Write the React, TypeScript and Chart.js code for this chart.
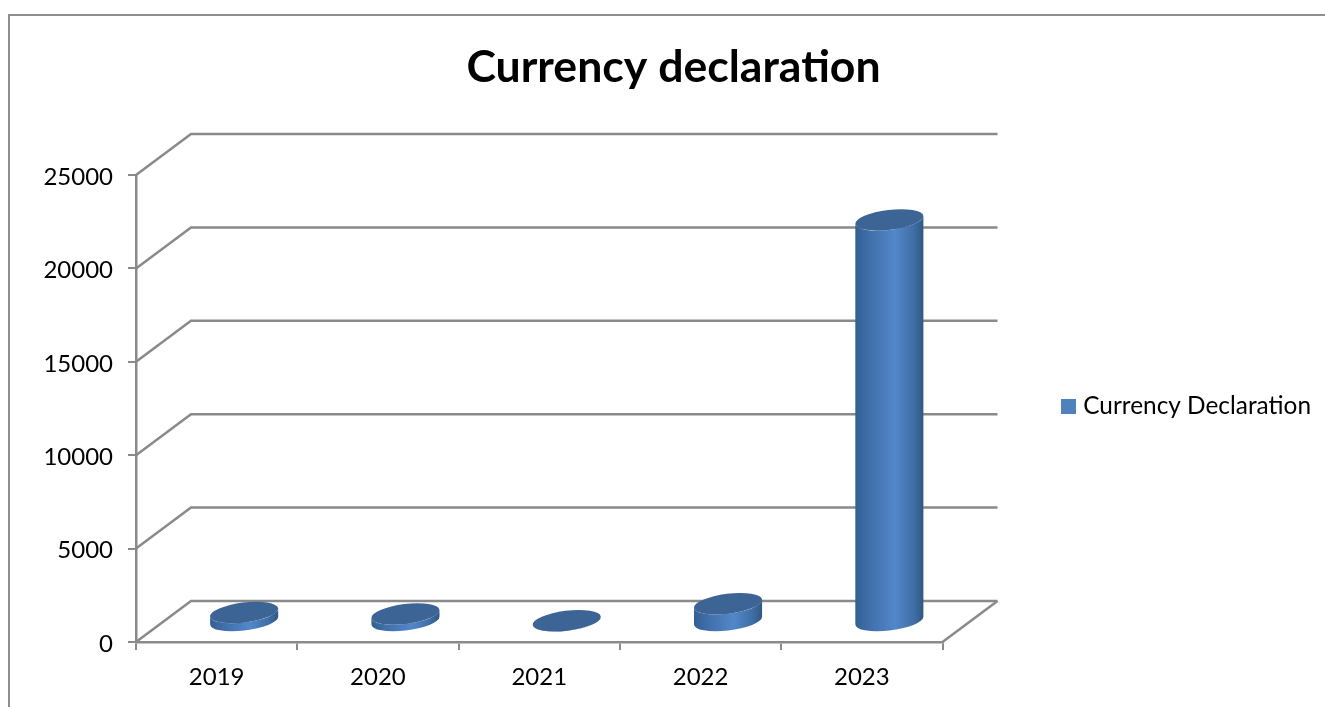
import React, { useEffect, useRef } from "react";
import { Chart, registerables } from "chart.js";

Chart.register(...registerables);

const years = ["2019", "2020", "2021", "2022", "2023"];
const declarations = [480, 400, 40, 950, 21500];
const seriesName = "Currency Declaration";
const chartTitle = "Currency declaration";

const FONT = "Lato, 'Open Sans', sans-serif";
const AXIS_GREY = "#8a8a8a";
const SERIES_BLUE = "#4F81BD";
const WALL_DX = 55;
const WALL_DY = 41;
const TILT = (-7 * Math.PI) / 180;
const RIM = 10;

// Swatch painted off-screen so the legend key can sit closer to its label.
function legendSwatch() {
  const c = document.createElement("canvas");
  c.width = 15;
  c.height = 15;
  const g = c.getContext("2d")!;
  g.fillStyle = SERIES_BLUE;
  g.fillRect(0, 0, 15, 15);
  return c;
}

// Chart frame, open on the right and bottom edges of the canvas.
const framePlugin = {
  id: "frame",
  beforeDraw(chart: any) {
    const { ctx, width, height } = chart;
    ctx.save();
    ctx.fillStyle = "#fff";
    ctx.fillRect(0, 0, width, height);
    ctx.strokeStyle = "#8e8e8e";
    ctx.lineWidth = 2;
    ctx.beginPath();
    ctx.moveTo(9, height + 2);
    ctx.lineTo(9, 15);
    ctx.lineTo(width + 2, 15);
    ctx.stroke();
    ctx.restore();
  },
};

// Moves title and legend to their final spots once the plot area is settled.
const placementPlugin = {
  id: "placement",
  afterLayout(chart: any) {
    const t = chart.titleBlock;
    const shift = 673.5 - (t.left + t.right) / 2;
    t.left += shift;
    t.right += shift;
    const l = chart.legend;
    const w = l.right - l.left;
    l.left = 1059;
    l.right = 1059 + w;
    l.top += 53;
    l.bottom += 53;
  },
};

// Receding wall and floor lines of the 3-D plot box, one per value tick.
const wallsPlugin = {
  id: "walls",
  beforeDatasetsDraw(chart: any) {
    const { ctx, chartArea, scales } = chart;
    const { left, right, bottom } = chartArea;
    ctx.save();
    ctx.strokeStyle = AXIS_GREY;
    ctx.lineWidth = 2.5;
    ctx.lineJoin = "miter";
    scales.y.ticks.forEach((_: any, i: number) => {
      const y = scales.y.getPixelForTick(i);
      ctx.beginPath();
      ctx.moveTo(left, y);
      ctx.lineTo(left + WALL_DX, y - WALL_DY);
      ctx.lineTo(right + WALL_DX, y - WALL_DY);
      ctx.stroke();
    });
    ctx.beginPath();
    ctx.moveTo(right, bottom);
    ctx.lineTo(right + WALL_DX, bottom - WALL_DY);
    ctx.stroke();
    ctx.restore();
  },
};

// Replaces the flat bars with shaded cylinders standing on the mid-depth floor.
const cylinderPlugin = {
  id: "cylinders",
  beforeDatasetDraw(chart: any, args: any) {
    const { ctx } = chart;
    args.meta.data.forEach((bar: any) => {
      const a = bar.width / 2 + 0.4;
      const cx = bar.x + WALL_DX / 2;
      const topY = bar.y - WALL_DY / 2;
      const baseY = bar.base - WALL_DY / 2;
      const t0 = Math.atan2(-RIM * Math.sin(TILT), a * Math.cos(TILT));
      const side = ctx.createLinearGradient(cx - a, 0, cx + a, 0);
      side.addColorStop(0, "#335f92");
      side.addColorStop(0.25, "#4272ae");
      side.addColorStop(0.58, "#5287ca");
      side.addColorStop(0.85, "#406fa7");
      side.addColorStop(1, "#2f5781");
      ctx.save();
      ctx.beginPath();
      ctx.ellipse(cx, baseY, a, RIM, TILT, t0, t0 + Math.PI, false);
      ctx.ellipse(cx, topY, a, RIM, TILT, t0 + Math.PI, t0, true);
      ctx.closePath();
      ctx.fillStyle = side;
      ctx.fill();
      ctx.beginPath();
      ctx.ellipse(cx, topY, a, RIM, TILT, 0, Math.PI * 2);
      ctx.fillStyle = "#3c6595";
      ctx.fill();
      ctx.restore();
    });
    return false;
  },
};

export default function App() {
  const ref = useRef<HTMLCanvasElement>(null);
  useEffect(() => {
    const chart = new Chart(ref.current!, {
      type: "bar",
      data: {
        labels: years,
        datasets: [
          {
            label: seriesName,
            data: declarations,
            backgroundColor: SERIES_BLUE,
            categoryPercentage: 1,
            barPercentage: 0.42,
          },
        ],
      },
      plugins: [framePlugin, placementPlugin, wallsPlugin, cylinderPlugin],
      options: {
        animation: false,
        responsive: false,
        layout: { padding: { left: 0, right: 120.5, top: 0, bottom: 0 } },
        plugins: {
          tooltip: { enabled: false },
          title: {
            display: true,
            text: chartTitle,
            color: "#000",
            font: { family: FONT, size: 44.6, weight: "bold", lineHeight: 1.2 },
            padding: { top: 41, bottom: 80.5 },
          },
          legend: {
            position: "right",
            labels: {
              color: "#000",
              font: { family: FONT, size: 24.4 },
              usePointStyle: true,
              pointStyle: legendSwatch(),
              pointStyleWidth: 6,
              padding: 6,
            },
          },
        },
        scales: {
          x: {
            afterFit: (s: any) => {
              s.height = 65;
            },
            grid: {
              drawOnChartArea: false,
              color: AXIS_GREY,
              lineWidth: 2,
              tickLength: 8,
            },
            border: { color: AXIS_GREY, width: 2.5 },
            ticks: {
              color: "#000",
              font: { family: FONT, size: 24, lineHeight: 1.2 },
              padding: 13,
              maxRotation: 0,
            },
          },
          y: {
            min: 0,
            max: 25000,
            afterFit: (s: any) => {
              s.width = 136;
            },
            grid: {
              drawOnChartArea: false,
              color: AXIS_GREY,
              lineWidth: 2,
              tickLength: 8,
            },
            border: { color: AXIS_GREY, width: 2.5 },
            ticks: {
              stepSize: 5000,
              color: "#000",
              font: { family: FONT, size: 24, lineHeight: 1.2 },
              padding: 15,
              labelOffset: 2,
              callback: (v: any) => String(v),
            },
          },
        },
      },
    } as any);
    return () => chart.destroy();
  }, []);
  return (
    <div style={{ position: "fixed", left: 0, top: 0, width: 1325, height: 707, overflow: "hidden" }}>
      <canvas ref={ref} width={1325} height={707} style={{ display: "block" }} />
    </div>
  );
}
